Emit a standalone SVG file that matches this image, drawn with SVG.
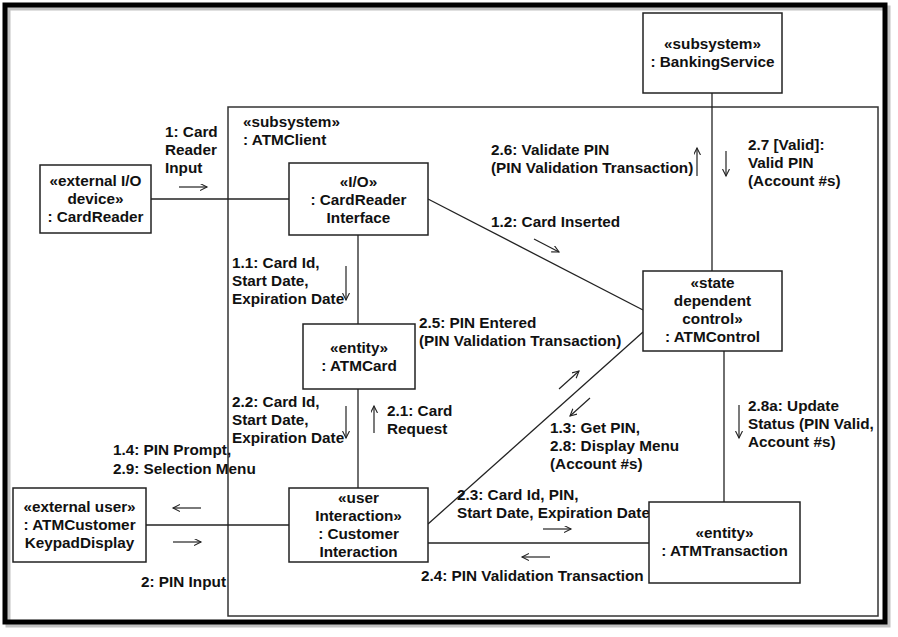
<svg xmlns="http://www.w3.org/2000/svg" width="898" height="637" viewBox="0 0 898 637">
<defs>
<style>
.box{fill:#fff;stroke:#222;stroke-width:1.5}
.ln{fill:none;stroke:#222;stroke-width:1.3}
.ar{fill:none;stroke:#222;stroke-width:1.2;marker-end:url(#ah)}
text{font-family:"Liberation Sans",Arial,sans-serif;font-weight:bold;font-size:15.3px;fill:#111}
.c{text-anchor:middle}
</style>
<marker id="ah" markerUnits="userSpaceOnUse" markerWidth="10" markerHeight="10" refX="7" refY="3.5" orient="auto">
<path d="M0,0 L7,3.5 L0,7" fill="none" stroke="#222" stroke-width="1.1"/>
</marker>
</defs>
<rect x="0" y="0" width="898" height="637" fill="#fff"/>
<!-- frame -->
<rect x="8" y="8" width="880" height="617" fill="none" stroke="#999" stroke-width="5" opacity="0.6"/>
<rect x="5" y="5" width="880" height="617" fill="none" stroke="#000" stroke-width="5"/>

<g id="ATMClient">
<rect x="228" y="107" width="650" height="509" fill="none" stroke="#333" stroke-width="1.5"/>
<text x="243" y="127">«subsystem»</text>
<text x="243" y="145">: ATMClient</text>
</g>

<g id="connectors">
<line class="ln" x1="151" y1="199" x2="289" y2="199"/>
<line class="ln" x1="358" y1="235" x2="358" y2="324"/>
<line class="ln" x1="358" y1="389" x2="358" y2="488"/>
<line class="ln" x1="428" y1="199" x2="643" y2="310"/>
<line class="ln" x1="428" y1="524" x2="643" y2="332"/>
<line class="ln" x1="712" y1="93" x2="712" y2="271"/>
<line class="ln" x1="724" y1="351" x2="724" y2="502"/>
<line class="ln" x1="146" y1="525" x2="289" y2="525"/>
<line class="ln" x1="428" y1="543" x2="649" y2="543"/>
</g>

<g id="messages">
<text x="165" y="137">1: Card</text>
<text x="165" y="155">Reader</text>
<text x="165" y="173">Input</text>
<line class="ar" x1="179" y1="187" x2="207" y2="187"/>

<text x="491" y="227">1.2: Card Inserted</text>
<line class="ar" x1="534" y1="239" x2="559" y2="252"/>

<text x="232" y="268">1.1: Card Id,</text>
<text x="232" y="286">Start Date,</text>
<text x="232" y="304">Expiration Date</text>
<line class="ar" x1="346" y1="266" x2="346" y2="300"/>

<text x="419" y="328">2.5: PIN Entered</text>
<text x="419" y="346">(PIN Validation Transaction)</text>
<line class="ar" x1="559" y1="389" x2="579" y2="371"/>

<text x="232" y="407">2.2: Card Id,</text>
<text x="232" y="425">Start Date,</text>
<text x="232" y="443">Expiration Date</text>
<line class="ar" x1="346" y1="406" x2="346" y2="438"/>

<text x="387" y="416">2.1: Card</text>
<text x="387" y="434">Request</text>
<line class="ar" x1="374" y1="433" x2="374" y2="406"/>

<text x="550" y="433">1.3: Get PIN,</text>
<text x="550" y="451">2.8: Display Menu</text>
<text x="550" y="469">(Account #s)</text>
<line class="ar" x1="590" y1="398" x2="570" y2="416"/>

<text x="113" y="455">1.4: PIN Prompt,</text>
<text x="113" y="474">2.9: Selection Menu</text>
<line class="ar" x1="201" y1="508" x2="173" y2="508"/>
<line class="ar" x1="173" y1="542" x2="201" y2="542"/>
<text x="141" y="587">2: PIN Input</text>

<text x="457" y="500">2.3: Card Id, PIN,</text>
<text x="457" y="518">Start Date, Expiration Date</text>
<line class="ar" x1="543" y1="529" x2="571" y2="529"/>

<text x="421" y="581">2.4: PIN Validation Transaction</text>
<line class="ar" x1="550" y1="557" x2="522" y2="557"/>

<text x="491" y="155">2.6: Validate PIN</text>
<text x="491" y="173">(PIN Validation Transaction)</text>
<line class="ar" x1="697" y1="176" x2="697" y2="148"/>

<text x="748" y="150">2.7 [Valid]:</text>
<text x="748" y="168">Valid PIN</text>
<text x="748" y="186">(Account #s)</text>
<line class="ar" x1="726" y1="151" x2="726" y2="176"/>

<text x="748" y="411">2.8a: Update</text>
<text x="748" y="429">Status (PIN Valid,</text>
<text x="748" y="447">Account #s)</text>
<line class="ar" x1="739" y1="405" x2="739" y2="438"/>
</g>

<g id="BankingService">
<rect class="box" x="643" y="13" width="139" height="80"/>
<text class="c" x="712.5" y="49">«subsystem»</text>
<text class="c" x="712.5" y="67">: BankingService</text>
</g>

<g id="CardReader">
<rect class="box" x="40" y="165" width="111" height="68"/>
<text class="c" x="95.5" y="186">«external I/O</text>
<text class="c" x="95.5" y="204">device»</text>
<text class="c" x="95.5" y="222">: CardReader</text>
</g>

<g id="CardReaderInterface">
<rect class="box" x="289" y="163" width="139" height="72"/>
<text class="c" x="358.5" y="187">«I/O»</text>
<text class="c" x="358.5" y="205">: CardReader</text>
<text class="c" x="358.5" y="223">Interface</text>
</g>

<g id="ATMCard">
<rect class="box" x="303" y="324" width="112" height="65"/>
<text class="c" x="359" y="353">«entity»</text>
<text class="c" x="359" y="371">: ATMCard</text>
</g>

<g id="ATMControl">
<rect class="box" x="643" y="271" width="139" height="80"/>
<text class="c" x="712.5" y="288">«state</text>
<text class="c" x="712.5" y="306">dependent</text>
<text class="c" x="712.5" y="324">control»</text>
<text class="c" x="712.5" y="342">: ATMControl</text>
</g>

<g id="ATMCustomerKeypadDisplay">
<rect class="box" x="13" y="488" width="133" height="74"/>
<text class="c" x="79.5" y="512">«external user»</text>
<text class="c" x="79.5" y="530">: ATMCustomer</text>
<text class="c" x="79.5" y="548">KeypadDisplay</text>
</g>

<g id="CustomerInteraction">
<rect class="box" x="289" y="488" width="139" height="74"/>
<text class="c" x="358.5" y="503">«user</text>
<text class="c" x="358.5" y="521">Interaction»</text>
<text class="c" x="358.5" y="539">: Customer</text>
<text class="c" x="358.5" y="557">Interaction</text>
</g>

<g id="ATMTransaction">
<rect class="box" x="649" y="502" width="151" height="81"/>
<text class="c" x="724.5" y="538">«entity»</text>
<text class="c" x="724.5" y="556">: ATMTransaction</text>
</g>
</svg>
